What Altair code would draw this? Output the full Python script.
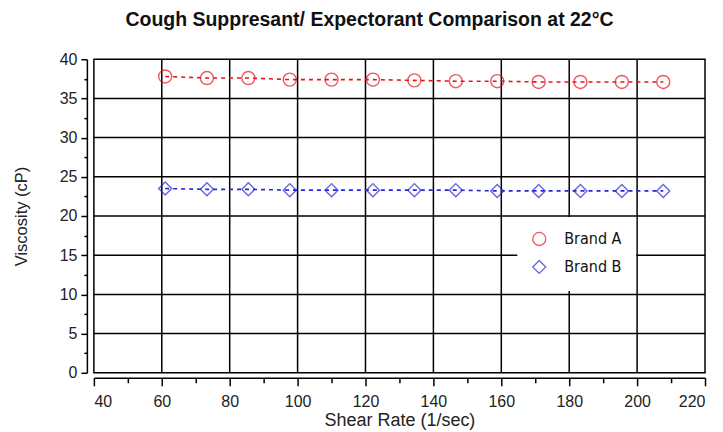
import altair as alt
import pandas as pd

shear = [61.0, 73.3, 85.5, 97.7, 110.0, 122.2, 134.4, 146.6, 158.8, 171.0, 183.3, 195.5, 207.7]
brand_a = [37.8, 37.6, 37.6, 37.4, 37.4, 37.4, 37.3, 37.2, 37.2, 37.1, 37.1, 37.1, 37.1]
brand_b = [23.5, 23.4, 23.4, 23.3, 23.3, 23.3, 23.3, 23.3, 23.2, 23.2, 23.2, 23.2, 23.2]
x_ticks = list(range(40, 221, 10))
y_ticks = [i * 2.5 for i in range(17)]
x_grid = [60, 80, 100, 120, 140, 160, 180, 200]
y_grid = [5, 10, 15, 20, 25, 30, 35]

df = pd.DataFrame({
    "x": shear * 2,
    "y": brand_a + brand_b,
    "Brand": ["Brand A"] * len(shear) + ["Brand B"] * len(shear),
})

xs = alt.Scale(domain=[40, 220], nice=False, zero=False)
ys = alt.Scale(domain=[0, 40], nice=False)
cscale = alt.Scale(domain=["Brand A", "Brand B"], range=["#e8141c", "#2626d9"])
leg = alt.Legend(title=None, orient="none", legendX=424, legendY=158,
                 fillColor="white", padding=14, rowPadding=8,
                 labelFont="DejaVu Sans Condensed, Liberation Sans Narrow, Liberation Sans", labelFontSize=16,
                 labelColor="#111", symbolSize=170, symbolStrokeWidth=1.3,
                 symbolFillColor="white", labelOffset=17)
color = alt.Color("Brand:N", scale=cscale, legend=leg)
shape = alt.Shape("Brand:N", scale=alt.Scale(domain=["Brand A", "Brand B"], range=["circle", "diamond"]), legend=leg)

xaxis = alt.Axis(values=x_ticks, labelExpr="datum.value % 20 === 0 ? datum.label : ''",
                 tickSize={"condition": {"test": "datum.value % 20 === 0", "value": 8}, "value": 5},
                 title="Shear Rate (1/sec)", grid=False, offset=5, labelOverlap=False,
                 labelPadding=8, titlePadding=2, titleFontSize=18)
yaxis = alt.Axis(values=y_ticks, labelExpr="datum.value % 5 === 0 ? datum.label : ''",
                 tickSize={"condition": {"test": "datum.value % 5 === 0", "value": 6}, "value": 3},
                 title="Viscosity (cP)", grid=False, offset=7, labelOverlap=False,
                 labelPadding=4, titlePadding=30, titleFontSize=16.5)

xg = alt.Chart(pd.DataFrame({"v": x_grid})).mark_rule(color="black", strokeWidth=1.5).encode(
    x=alt.X("v:Q", scale=xs, axis=xaxis))
yg = alt.Chart(pd.DataFrame({"v": y_grid})).mark_rule(color="black", strokeWidth=1.5).encode(
    y=alt.Y("v:Q", scale=ys, axis=yaxis))

base = alt.Chart(df).encode(
    x=alt.X("x:Q", scale=xs, axis=xaxis),
    y=alt.Y("y:Q", scale=ys, axis=yaxis),
)
lines = base.mark_line(strokeDash=[4, 4], strokeWidth=1.6).encode(color=color, detail="Brand:N")
pts = base.mark_point(filled=False, size=170, strokeWidth=1.4).encode(color=color, shape=shape)

chart = alt.layer(xg, yg, lines, pts).properties(
    width=612, height=314,
    background="white",
    title=alt.TitleParams("Cough Suppresant/ Expectorant Comparison at 22°C", font="Liberation Sans",
                          fontSize=19.5, fontWeight="bold", color="#111", anchor="middle", dx=-30, offset=21),
    autosize=alt.AutoSizeParams(type="none"),
    padding={"left": 86, "top": 51, "right": 10, "bottom": 58},
).configure_view(stroke="black", strokeWidth=1.5).configure_axis(
    domainColor="black", domainWidth=1.5, tickColor="black", tickWidth=1.5,
    labelFont="Liberation Sans", labelFontSize=16, labelColor="#222",
    titleFont="Liberation Sans", titleFontWeight="normal", titleColor="#222",
)

chart.save("out.html", embed_options={"renderer": "svg", "actions": False})
